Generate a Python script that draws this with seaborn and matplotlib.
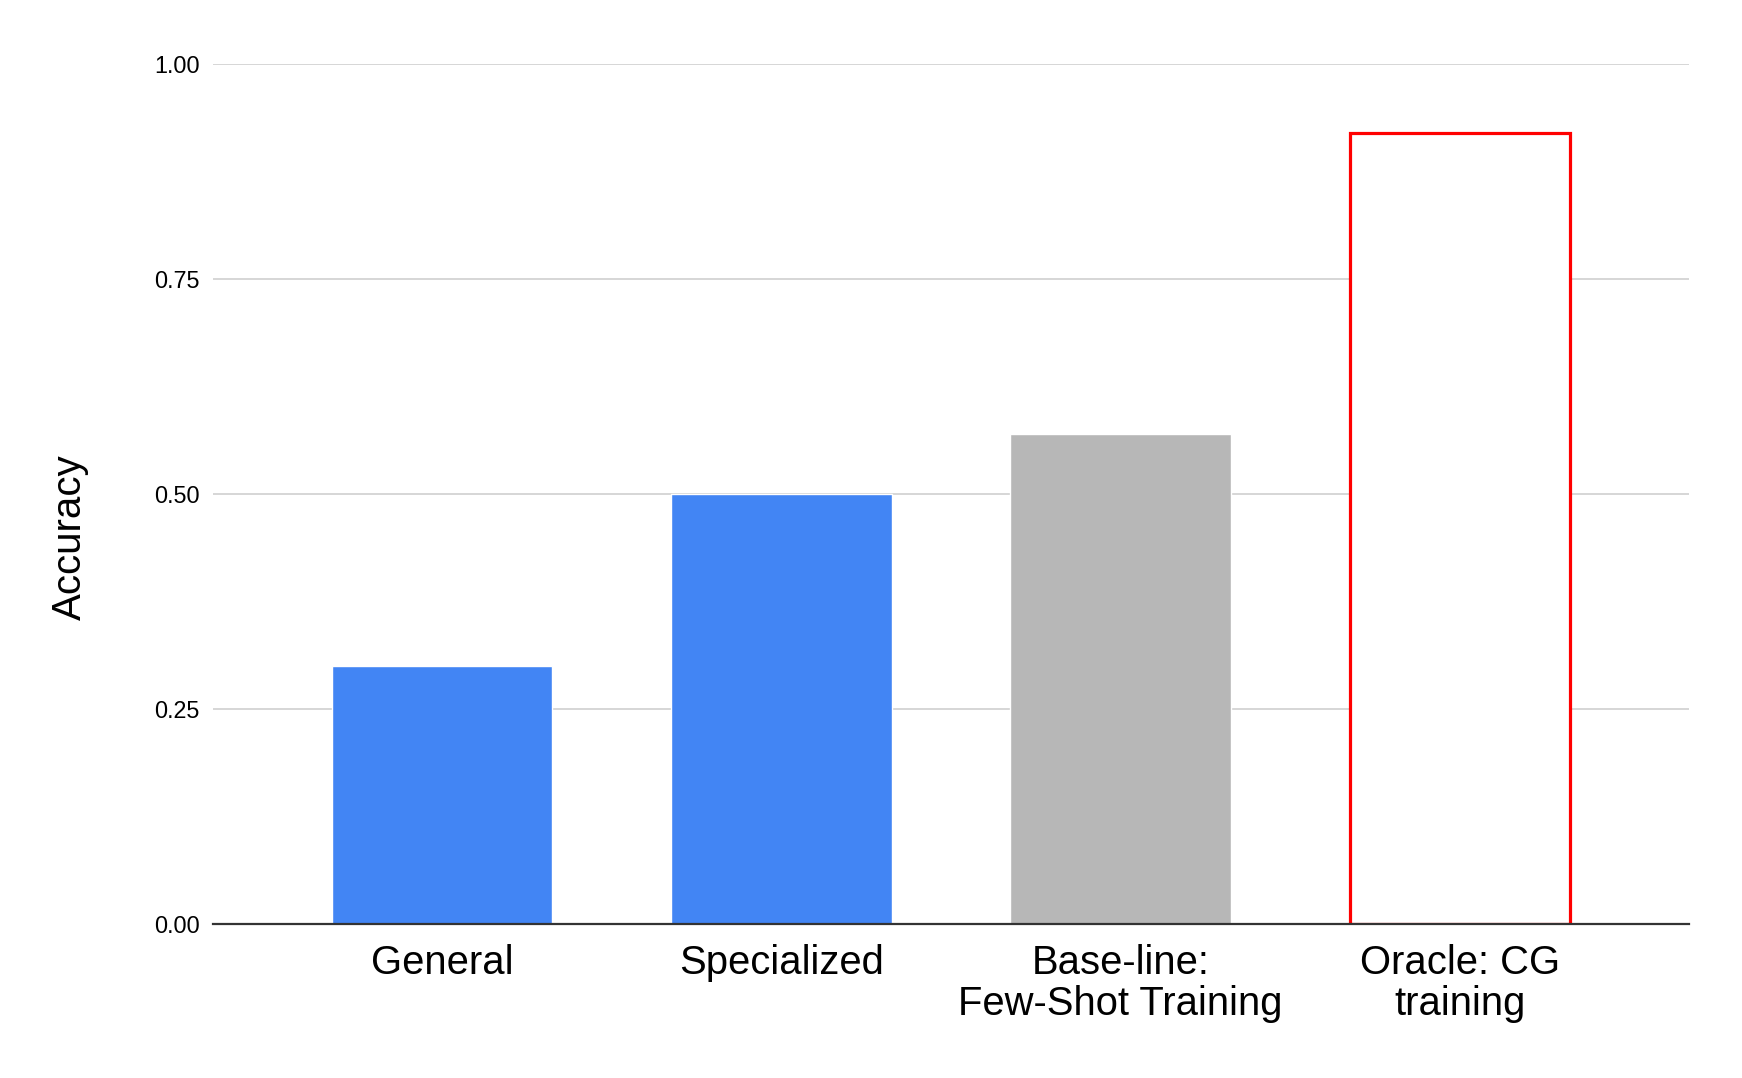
import matplotlib
matplotlib.use("Agg")
import matplotlib.pyplot as plt
import seaborn as sns
import pandas as pd

categories = ["General", "Specialized", "Base-line:\nFew-Shot Training", "Oracle: CG\ntraining"]
accuracy = [0.30, 0.50, 0.57, 0.92]
bar_colors = ["#4285F4", "#4285F4", "#B7B7B7", "#FFFFFF"]
yticks = [0.00, 0.25, 0.50, 0.75, 1.00]
ytick_labels = ["0.00", "0.25", "0.50", "0.75", "1.00"]

sns.set_theme(style="white")
plt.rcParams["font.family"] = ["Liberation Sans", "DejaVu Sans"]

df = pd.DataFrame({"cat": categories, "acc": accuracy})

fig = plt.figure(figsize=(17.42, 10.78), dpi=100)
ax = fig.add_axes([213 / 1742, 154 / 1078, (1689 - 213) / 1742, 860 / 1078])

sns.barplot(data=df, x="cat", y="acc", hue="cat", palette=bar_colors,
            legend=False, width=0.65, saturation=1, ax=ax, zorder=3)

# Oracle bar: outlined in red
oracle = ax.patches[3]
oracle.set_facecolor("white")
oracle.set_edgecolor("#FF0000")
oracle.set_linewidth(2.3)

ax.set_xlim(-0.675, 3.675)
ax.set_ylim(0, 1.0)
ax.set_yticks(yticks)
ax.set_yticklabels(ytick_labels)
ax.yaxis.grid(True, color="#CCCCCC", linewidth=1.1, zorder=0)
ax.set_axisbelow(True)
for s in ["top", "right", "left"]:
    ax.spines[s].set_visible(False)
ax.spines["bottom"].set_color("#333333")
ax.spines["bottom"].set_linewidth(1.6)
ax.spines["bottom"].set_zorder(5)

ax.tick_params(axis="y", length=0, pad=9.5, labelsize=16.8, labelcolor="#000000")
ax.tick_params(axis="x", length=0, pad=14.5, labelsize=28.8, labelcolor="#000000")
for t in ax.get_xticklabels():
    t.set_linespacing(1.1)

ax.set_xlabel("")
ax.set_ylabel("")
fig.text(70 / 1742, 1 - 537 / 1078, "Accuracy", rotation=90, fontsize=29,
         ha="center", va="center", color="#000000")

fig.savefig("out.png", dpi=100, facecolor="white")
